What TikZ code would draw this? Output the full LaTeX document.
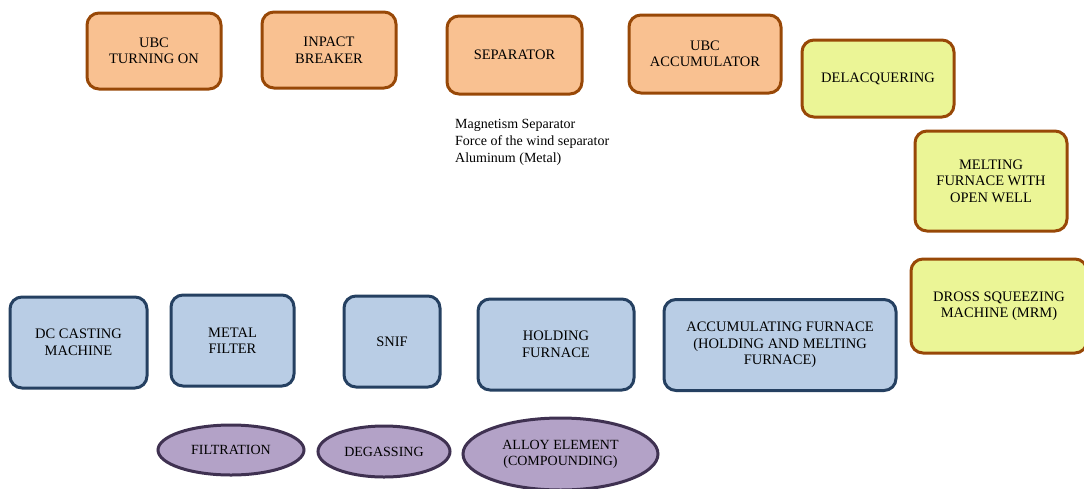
\documentclass[tikz,border=0pt]{standalone}
\usepackage{fontspec}
\setmainfont{Liberation Serif}
\usetikzlibrary{shapes.geometric}
\definecolor{orangefill}{HTML}{F9C191}
\definecolor{yellowfill}{HTML}{EBF596}
\definecolor{brownline}{HTML}{984807}
\definecolor{bluefill}{HTML}{B9CDE5}
\definecolor{navyline}{HTML}{254061}
\definecolor{purplefill}{HTML}{B3A2C7}
\definecolor{plumline}{HTML}{3F3151}
\tikzset{
  base/.style={rounded corners=12pt, line width=3pt, align=center,
    font=\fontsize{14.5}{16.5}\selectfont, inner sep=2pt},
  obox/.style={base, draw=brownline, fill=orangefill},
  ybox/.style={base, draw=brownline, fill=yellowfill},
  bbox/.style={base, draw=navyline, fill=bluefill},
  pell/.style={ellipse, line width=3pt, draw=plumline, fill=purplefill,
    align=center, font=\fontsize{14}{16}\selectfont, inner sep=0pt},
  note/.style={align=left, font=\fontsize{14}{17}\selectfont, inner sep=0pt}
}
\begin{document}
\begin{tikzpicture}[x=1pt,y=-1pt]
\useasboundingbox (0,0) rectangle (1084,488);
% scrap preparation (orange)
\node[obox, minimum width=134pt, minimum height=76pt] (turn) at (154,51) {UBC\\TURNING ON};
\node[obox, minimum width=134pt, minimum height=76pt] (brk) at (329,50) {INPACT\\BREAKER};
\node[obox, minimum width=135pt, minimum height=78pt] (sep) at (514.5,55) {SEPARATOR};
\node[obox, minimum width=152pt, minimum height=78pt] (acc) at (705,54) {UBC\\ACCUMULATOR};
% separator notes
\node[note, anchor=north west] (sepnote) at (455,119) {Magnetism Separator\\Force of the wind separator\\Aluminum (Metal)};
% melting (yellow)
\node[ybox, minimum width=152pt, minimum height=77pt] (dlq) at (878,78.5) {DELACQUERING};
\node[ybox, minimum width=152pt, minimum height=100pt] (melt) at (991,181) {MELTING\\FURNACE WITH\\OPEN WELL};
\node[ybox, minimum width=176pt, minimum height=94pt] (dross) at (999,306) {DROSS SQUEEZING\\MACHINE (MRM)};
% casting line (blue)
\node[bbox, minimum width=137pt, minimum height=91pt] (dc) at (78.5,342.5) {DC CASTING\\MACHINE};
\node[bbox, minimum width=123pt, minimum height=91pt] (filt) at (232.5,340.5) {METAL\\FILTER};
\node[bbox, minimum width=96pt, minimum height=91pt] (snif) at (392,341.5) {SNIF};
\node[bbox, minimum width=156pt, minimum height=91pt] (hold) at (556,344.5) {HOLDING\\FURNACE};
\node[bbox, minimum width=232pt, minimum height=91pt] (accf) at (780,345) {ACCUMULATING FURNACE\\(HOLDING AND MELTING\\FURNACE)};
% treatments (purple)
\node[pell, minimum width=146pt, minimum height=50pt] (ftr) at (231,450) {FILTRATION};
\node[pell, minimum width=132pt, minimum height=51pt] (dgs) at (384,451.5) {DEGASSING};
\node[pell, minimum width=195pt, minimum height=72pt] (alloy) at (560.5,454) {ALLOY ELEMENT\\(COMPOUNDING)};
\end{tikzpicture}
\end{document}
